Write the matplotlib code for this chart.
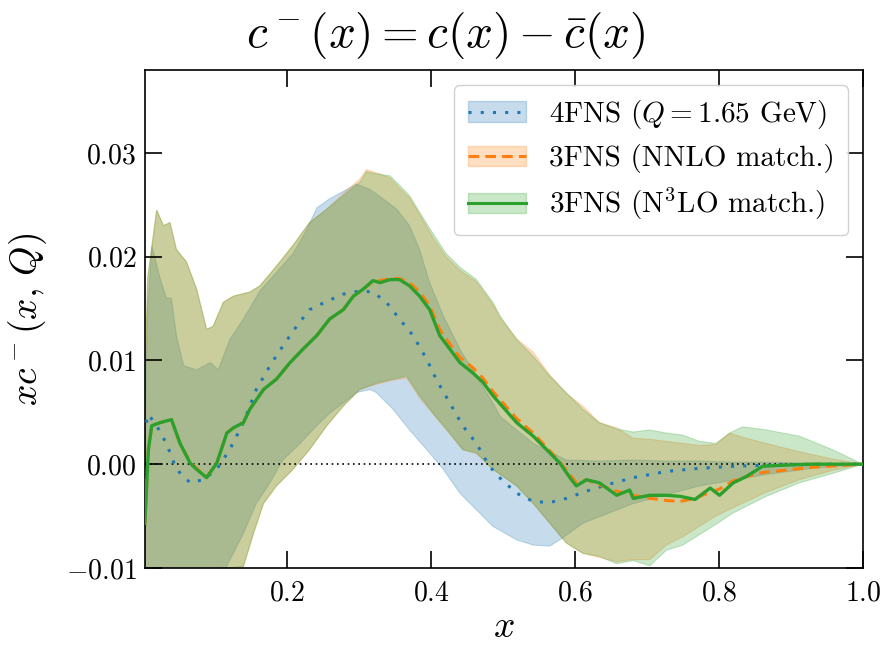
import matplotlib
matplotlib.use("Agg")
import matplotlib.pyplot as plt
from matplotlib.patches import Patch
from matplotlib.lines import Line2D
from matplotlib.ticker import FixedLocator, FuncFormatter

plt.rcParams["font.family"] = "serif"
plt.rcParams["font.serif"] = ["cmr10"]
plt.rcParams["mathtext.fontset"] = "cm"
plt.rcParams["axes.formatter.use_mathtext"] = True

# ---- 4FNS (Q = 1.65 GeV): central value and uncertainty band ----
x_4fns = [0.004, 0.007, 0.0185, 0.032, 0.046, 0.065, 0.083, 0.102, 0.12, 0.139,
          0.157, 0.176, 0.194, 0.213, 0.231, 0.255, 0.278, 0.301, 0.319, 0.338,
          0.356, 0.375, 0.394, 0.407, 0.426, 0.444, 0.463, 0.481, 0.498, 0.519,
          0.542, 0.565, 0.588, 0.616, 0.644, 0.681, 0.727, 0.773, 0.82, 0.866,
          0.93, 1.0]
c_4fns = [0.0040, 0.0048, 0.0037, 0.0020, -0.0005, -0.0018, -0.0015, -0.0005, 0.0014, 0.0040,
          0.0072, 0.0095, 0.0114, 0.0133, 0.0149, 0.0157, 0.0164, 0.0167, 0.0166, 0.0156,
          0.0140, 0.0124, 0.0101, 0.0082, 0.0059, 0.0037, 0.0020, -0.0002, -0.0015, -0.0028,
          -0.0036, -0.0037, -0.0033, -0.0026, -0.0020, -0.0013, -0.0007, -0.0004, -0.0002, -0.0001,
          0.0, 0.0]

x_4fns_up = [0.002, 0.006, 0.012, 0.023, 0.032, 0.039, 0.046, 0.056, 0.074, 0.093,
             0.104, 0.12, 0.139, 0.162, 0.185, 0.208, 0.227, 0.241, 0.259, 0.278,
             0.296, 0.315, 0.333, 0.352, 0.37, 0.384, 0.398, 0.417, 0.44, 0.463,
             0.486, 0.496, 0.542, 0.588, 0.634, 0.681, 0.727, 0.773, 0.82, 0.866,
             0.93, 1.0]
up_4fns = [0.0020, 0.0150, 0.0210, 0.0180, 0.0160, 0.0160, 0.0124, 0.0095, 0.0091, 0.0098,
           0.0091, 0.0120, 0.0140, 0.0167, 0.0185, 0.0203, 0.0226, 0.0247, 0.0256, 0.0263,
           0.0270, 0.0265, 0.0256, 0.0246, 0.0230, 0.0207, 0.0175, 0.0143, 0.0111, 0.0085,
           0.0059, 0.0046, 0.0020, 0.0004, 0.0003, 0.0004, 0.0003, 0.0003, 0.0002, 0.0002,
           0.0001, 0.0]

x_4fns_lo = [0.002, 0.111, 0.139, 0.157, 0.176, 0.194, 0.218, 0.241, 0.259, 0.278,
             0.296, 0.315, 0.324, 0.347, 0.37, 0.394, 0.417, 0.44, 0.463, 0.486,
             0.519, 0.542, 0.565, 0.579, 0.611, 0.681, 0.773, 0.866, 0.93, 1.0]
lo_4fns = [-0.0105, -0.0105, -0.0067, -0.0038, -0.0018, 0.0004, 0.0020, 0.0037, 0.0049, 0.0059,
           0.0069, 0.0072, 0.0069, 0.0053, 0.0033, 0.0014, -0.0005, -0.0028, -0.0044, -0.0060,
           -0.0073, -0.0078, -0.0079, -0.0073, -0.0057, -0.0038, -0.0021, -0.0010, -0.0004, 0.0]

# ---- 3FNS central values (NNLO and N3LO matching) ----
x_3fns = [0.002, 0.007, 0.0116, 0.023, 0.039, 0.051, 0.065, 0.074, 0.088, 0.102,
          0.116, 0.125, 0.139, 0.148, 0.167, 0.185, 0.204, 0.222, 0.241, 0.259,
          0.278, 0.292, 0.306, 0.319, 0.329, 0.343, 0.356, 0.37, 0.384, 0.398,
          0.412, 0.426, 0.44, 0.458, 0.472, 0.486, 0.519, 0.542, 0.565, 0.579,
          0.593, 0.602, 0.616, 0.634, 0.658, 0.676, 0.681, 0.704, 0.727, 0.746,
          0.767, 0.788, 0.801, 0.82, 0.838, 0.861, 0.889, 0.93, 1.0]
c_n3lo = [-0.0057, 0.0014, 0.0037, 0.0040, 0.0043, 0.0020, 0.0001, -0.0005, -0.0013, 0.0001,
          0.0030, 0.0035, 0.0040, 0.0053, 0.0072, 0.0082, 0.0098, 0.0111, 0.0124, 0.0140,
          0.0149, 0.0162, 0.0169, 0.0177, 0.0175, 0.0178, 0.0178, 0.0172, 0.0162, 0.0149,
          0.0124, 0.0111, 0.0098, 0.0088, 0.0079, 0.0066, 0.0040, 0.0027, 0.0011, 0.0001,
          -0.0013, -0.0021, -0.0015, -0.0018, -0.0030, -0.0025, -0.0033, -0.0030, -0.0030, -0.0031,
          -0.0034, -0.0023, -0.0030, -0.0018, -0.0012, -0.0002, -0.0001, 0.0, 0.0]
c_nnlo = [-0.0057, 0.0014, 0.0037, 0.0040, 0.0043, 0.0020, 0.0002, -0.0004, -0.0012, 0.0001,
          0.0030, 0.0035, 0.0040, 0.0053, 0.0072, 0.0082, 0.0098, 0.0111, 0.0124, 0.0140,
          0.0149, 0.0162, 0.0169, 0.0176, 0.0177, 0.0179, 0.0179, 0.0175, 0.0166, 0.0153,
          0.0130, 0.0116, 0.0103, 0.0093, 0.0083, 0.0070, 0.0044, 0.0030, 0.0013, 0.0002,
          -0.0010, -0.0018, -0.0015, -0.0020, -0.0026, -0.0029, -0.0030, -0.0033, -0.0035, -0.0036,
          -0.0033, -0.0027, -0.0024, -0.0016, -0.0012, -0.0008, -0.0006, -0.0003, 0.0]

# ---- 3FNS uncertainty bands ----
x_3fns_up = [0.002, 0.006, 0.0185, 0.028, 0.037, 0.046, 0.06, 0.074, 0.088, 0.097,
             0.111, 0.125, 0.148, 0.162, 0.185, 0.208, 0.231, 0.255, 0.278, 0.301,
             0.31, 0.324, 0.343, 0.356, 0.37, 0.384, 0.403, 0.421, 0.44, 0.463,
             0.486, 0.496, 0.519, 0.542, 0.565, 0.588, 0.611, 0.634, 0.658, 0.681,
             0.704, 0.727, 0.75, 0.773, 0.796, 0.815, 0.833, 0.866, 0.912, 0.958,
             1.0]
up_n3lo = [0.0080, 0.0180, 0.0245, 0.0230, 0.0233, 0.0207, 0.0195, 0.0169, 0.0130, 0.0133,
           0.0156, 0.0162, 0.0166, 0.0172, 0.0191, 0.0211, 0.0233, 0.0246, 0.0259, 0.0272,
           0.0282, 0.0280, 0.0278, 0.0269, 0.0259, 0.0243, 0.0222, 0.0203, 0.0190, 0.0178,
           0.0156, 0.0143, 0.0120, 0.0104, 0.0085, 0.0069, 0.0053, 0.0040, 0.0034, 0.0031,
           0.0033, 0.0030, 0.0028, 0.0022, 0.0020, 0.0030, 0.0036, 0.0033, 0.0027, 0.0014,
           0.0]
up_nnlo = [0.0080, 0.0180, 0.0245, 0.0230, 0.0233, 0.0207, 0.0195, 0.0169, 0.0130, 0.0133,
           0.0156, 0.0162, 0.0166, 0.0172, 0.0191, 0.0211, 0.0233, 0.0246, 0.0261, 0.0275,
           0.0284, 0.0281, 0.0276, 0.0266, 0.0257, 0.0241, 0.0218, 0.0200, 0.0187, 0.0176,
           0.0154, 0.0141, 0.0121, 0.0108, 0.0086, 0.0068, 0.0056, 0.0040, 0.0035, 0.0025,
           0.0024, 0.0022, 0.0020, 0.0018, 0.0019, 0.0030, 0.0026, 0.0020, 0.0012, 0.0005,
           0.0]

x_3fns_lo = [0.002, 0.139, 0.153, 0.167, 0.185, 0.208, 0.231, 0.255, 0.278, 0.301,
             0.324, 0.347, 0.366, 0.384, 0.403, 0.426, 0.444, 0.463, 0.486, 0.519,
             0.542, 0.565, 0.588, 0.611, 0.634, 0.658, 0.681, 0.704, 0.727, 0.75,
             0.773, 0.796, 0.82, 0.866, 0.912, 0.958, 1.0]
lo_n3lo = [-0.0105, -0.0099, -0.0067, -0.0038, -0.0021, -0.0005, 0.0014, 0.0037, 0.0056, 0.0072,
           0.0078, 0.0082, 0.0085, 0.0066, 0.0049, 0.0030, 0.0014, 0.0011, -0.0005, -0.0021,
           -0.0038, -0.0057, -0.0076, -0.0086, -0.0089, -0.0096, -0.0093, -0.0098, -0.0083, -0.0078,
           -0.0068, -0.0058, -0.0047, -0.0031, -0.0018, -0.0009, 0.0]
lo_nnlo = [-0.0105, -0.0099, -0.0067, -0.0038, -0.0021, -0.0005, 0.0014, 0.0037, 0.0056, 0.0072,
           0.0077, 0.0081, 0.0083, 0.0064, 0.0048, 0.0029, 0.0014, 0.0010, -0.0005, -0.0021,
           -0.0038, -0.0057, -0.0076, -0.0086, -0.0090, -0.0094, -0.0092, -0.0092, -0.0078, -0.0070,
           -0.0060, -0.0050, -0.0042, -0.0027, -0.0015, -0.0006, 0.0]

labels = [r"4FNS ($Q = 1.65$ GeV)", r"3FNS (NNLO match.)", r"3FNS (N$^3$LO match.)"]
C_BLUE, C_ORANGE, C_GREEN = "#1f77b4", "#ff7f0e", "#2ca02c"
BAND_ALPHA = 0.25
LS_BLUE = (0, (1, 3))
LS_ORANGE = (0, (3.5, 2))

fig = plt.figure(figsize=(8.83, 6.49), dpi=100)
ax = fig.add_axes([0.164, 0.125, 0.813, 0.767])


def band(xu, yu, xl, yl, color):
    xs = list(xu) + list(xl)[::-1]
    ys = list(yu) + list(yl)[::-1]
    ax.fill(xs, ys, facecolor=color, edgecolor=color, alpha=BAND_ALPHA, lw=0.8)


band(x_4fns_up, up_4fns, x_4fns_lo, lo_4fns, C_BLUE)
band(x_3fns_up, up_nnlo, x_3fns_lo, lo_nnlo, C_ORANGE)
band(x_3fns_up, up_n3lo, x_3fns_lo, lo_n3lo, C_GREEN)

ax.axhline(0.0, color="black", lw=1.2, ls=(0, (1, 2.2)), zorder=3)

ax.plot(x_4fns, c_4fns, color=C_BLUE, lw=2.2, ls=LS_BLUE, zorder=4)
ax.plot(x_3fns, c_nnlo, color=C_ORANGE, lw=2.2, ls=LS_ORANGE, zorder=5)
ax.plot(x_3fns, c_n3lo, color=C_GREEN, lw=2.4, zorder=6)

ax.set_xlim(0.002, 1.0)
ax.set_ylim(-0.01, 0.038)

ax.xaxis.set_major_locator(FixedLocator([0.2, 0.4, 0.6, 0.8, 1.0]))
ax.yaxis.set_major_locator(FixedLocator([-0.01, 0.0, 0.01, 0.02, 0.03]))
ax.xaxis.set_major_formatter(FuncFormatter(lambda v, p: r"$%.1f$" % v))
ax.yaxis.set_major_formatter(FuncFormatter(lambda v, p: r"$%.2f$" % v))
ax.tick_params(which="major", direction="in", length=12, width=1.2,
               top=True, right=True, labelsize=20)
ax.tick_params(axis="y", pad=6)
ax.tick_params(axis="x", pad=9)
for s in ax.spines.values():
    s.set_linewidth(1.2)

ax.set_xlabel(r"$x$", fontsize=27, labelpad=3)
ax.set_ylabel(r"$xc^-(x,\,Q)$", fontsize=27, labelpad=12)
fig.suptitle(r"$c^-(x) = c(x) - \bar{c}(x)$", x=0.505, y=0.985,
             fontsize=34, va="top")

handles = []
for c, ls in [(C_BLUE, LS_BLUE), (C_ORANGE, LS_ORANGE), (C_GREEN, "-")]:
    handles.append((Patch(facecolor=c, edgecolor=c, alpha=BAND_ALPHA),
                    Line2D([], [], color=c, lw=2.2, ls=ls)))
ax.legend(handles, labels, loc="upper right", fontsize=21, frameon=True,
          fancybox=True, framealpha=0.9, edgecolor="#cccccc",
          handlelength=2.0, handletextpad=0.8, borderpad=0.45,
          labelspacing=0.45)

fig.savefig("out.png", dpi=100)
